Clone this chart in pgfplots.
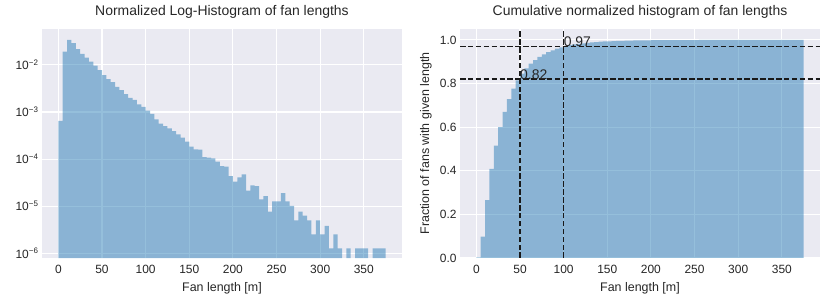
\documentclass[border=0pt]{standalone}
\usepackage{pgfplots}
\pgfplotsset{compat=1.18}
\usepackage{fontspec}
\setmainfont{Liberation Sans}
\definecolor{bgc}{HTML}{EAEAF2}
\definecolor{txt}{HTML}{262626}
\definecolor{barc}{HTML}{1F77B4}

\pgfplotsset{sns/.style={
  scale only axis, width=360bp, height=229bp,
  axis background/.style={fill=bgc},
  axis line style={draw=none},
  grid=major, grid style={white, line width=1.1bp},
  major tick length=0pt, minor tick length=0pt,
  tick label style={font=\fontsize{12}{14}\selectfont, text=txt},
  xticklabel style={anchor=base, yshift=-15bp},
  label style={font=\fontsize{12.5}{15}\selectfont, text=txt},
  xlabel style={at={([yshift=-33bp]axis description cs:0.5,0)}, anchor=base},
  title style={font=\fontsize{14}{16}\selectfont, text=txt, at={([yshift=8bp]axis description cs:0.5,1)}, anchor=base},
  /pgf/number format/assume math mode=true,
  xmin=-18.75, xmax=393.75, xtick={0,50,100,150,200,250,300,350},
}}

\pgfplotstableread{
x d
2.5 6.5e-4
7.5 1.92e-2
12.5 3.40e-2
17.5 2.89e-2
22.5 2.16e-2
27.5 1.71e-2
32.5 1.43e-2
37.5 1.18e-2
42.5 9.7e-3
47.5 7.8e-3
52.5 6.1e-3
57.5 5.0e-3
62.5 4.3e-3
67.5 3.4e-3
72.5 2.9e-3
77.5 2.4e-3
82.5 2.0e-3
87.5 1.8e-3
92.5 1.46e-3
97.5 1.28e-3
102.5 1.07e-3
107.5 9.1e-4
112.5 7.0e-4
117.5 5.65e-4
122.5 5.0e-4
127.5 4.5e-4
132.5 3.9e-4
137.5 3.35e-4
142.5 2.84e-4
147.5 2.34e-4
152.5 1.83e-4
157.5 1.61e-4
162.5 1.58e-4
167.5 1.10e-4
172.5 1.07e-4
177.5 1.03e-4
182.5 8.8e-5
187.5 7.1e-5
192.5 6.9e-5
197.5 4.35e-5
202.5 3.3e-5
207.5 4.1e-5
212.5 4.7e-5
217.5 2.14e-5
222.5 2.77e-5
227.5 2.65e-5
232.5 1.39e-5
237.5 1.64e-5
242.5 7.6e-6
247.5 1.26e-5
252.5 1.26e-5
257.5 1.89e-5
262.5 1.26e-5
267.5 1.01e-5
272.5 5.0e-6
277.5 7.6e-6
282.5 6.3e-6
287.5 5.0e-6
292.5 2.5e-6
297.5 5.0e-6
302.5 2.5e-6
307.5 3.8e-6
312.5 1.26e-6
317.5 2.5e-6
322.5 1.26e-6
332.5 1.26e-6
342.5 1.26e-6
347.5 1.26e-6
352.5 1.26e-6
362.5 1.26e-6
367.5 1.26e-6
372.5 1.26e-6
}\histtab

\pgfplotstableread{
x c
2.5 0.00321
7.5 0.09799
12.5 0.26583
17.5 0.40849
22.5 0.51512
27.5 0.59953
32.5 0.67013
37.5 0.72837
42.5 0.77626
47.5 0.81476
52.5 0.84488
57.5 0.86956
62.5 0.89079
67.5 0.90757
72.5 0.92189
77.5 0.93373
82.5 0.94361
87.5 0.95249
92.5 0.95970
97.5 0.96602
102.5 0.97130
107.5 0.97579
112.5 0.97925
117.5 0.98204
122.5 0.98451
127.5 0.98673
132.5 0.98865
137.5 0.99030
142.5 0.99171
147.5 0.99286
152.5 0.99376
157.5 0.99456
162.5 0.99534
167.5 0.99588
172.5 0.99641
177.5 0.99692
182.5 0.99735
187.5 0.99770
192.5 0.99804
197.5 0.99826
202.5 0.99842
207.5 0.99862
212.5 0.99886
217.5 0.99896
222.5 0.99910
227.5 0.99923
232.5 0.99930
237.5 0.99938
242.5 0.99942
247.5 0.99948
252.5 0.99954
257.5 0.99963
262.5 0.99970
267.5 0.99975
272.5 0.99977
277.5 0.99981
282.5 0.99984
287.5 0.99986
292.5 0.99988
297.5 0.99990
302.5 0.99991
307.5 0.99993
312.5 0.99994
317.5 0.99995
322.5 0.99996
327.5 0.99996
332.5 0.99997
337.5 0.99997
342.5 0.99997
347.5 0.99998
352.5 0.99998
357.5 0.99998
362.5 0.99999
367.5 0.99999
372.5 1.00000
}\cumtab

\begin{document}
\begin{tikzpicture}
\useasboundingbox (0,0) rectangle (830bp,306bp);
\begin{axis}[sns, at={(42bp,48bp)}, anchor=south west,
  ymode=log, ymin=7.9e-7, ymax=0.058, log origin y=infty,
  ytick={1e-6,1e-5,1e-4,1e-3,1e-2},
  yticklabels={10\textsuperscript{−6},10\textsuperscript{−5},10\textsuperscript{−4},10\textsuperscript{−3},10\textsuperscript{−2}},
  yminorticks=false,
  title={Normalized Log-Histogram of fan lengths},
  xlabel={Fan length [m]}]
\addplot[ybar, bar width=5, bar shift=0pt, fill=barc, fill opacity=0.47, draw=none] table[x=x, y=d] {\histtab};
\end{axis}
\begin{axis}[sns, at={(460bp,48bp)}, anchor=south west,
  ymin=0, ymax=1.05, ytick={0,0.2,0.4,0.6,0.8,1},
  yticklabel style={/pgf/number format/.cd, fixed, fixed zerofill, precision=1},
  title={Cumulative normalized histogram of fan lengths},
  xlabel={Fan length [m]},
  ylabel={Fraction of fans with given length},
  ylabel style={at={([xshift=-31bp]axis description cs:0,0.5)}, anchor=base}]
\addplot[ybar, bar width=5, bar shift=0pt, fill=barc, fill opacity=0.47, draw=none] table[x=x, y=c] {\cumtab};
\addplot[black!90, line width=1.5bp, dash pattern=on 5.5bp off 2.4bp] coordinates {(50,0) (50,1.05)};
\addplot[black!90, line width=1.5bp, dash pattern=on 5.5bp off 2.4bp] coordinates {(100,0) (100,1.05)};
\addplot[black!90, line width=1.5bp, dash pattern=on 5.5bp off 2.4bp] coordinates {(-18.75,0.82) (393.75,0.82)};
\addplot[black!90, line width=1.5bp, dash pattern=on 5.5bp off 2.4bp] coordinates {(-18.75,0.969) (393.75,0.969)};
\node[anchor=base west, inner sep=0pt, font=\fontsize{14}{16}\selectfont, text=txt] at (axis cs:50,0.82) {0.82};
\node[anchor=base west, inner sep=0pt, font=\fontsize{14}{16}\selectfont, text=txt] at (axis cs:100,0.969) {0.97};
\end{axis}
\end{tikzpicture}
\end{document}
